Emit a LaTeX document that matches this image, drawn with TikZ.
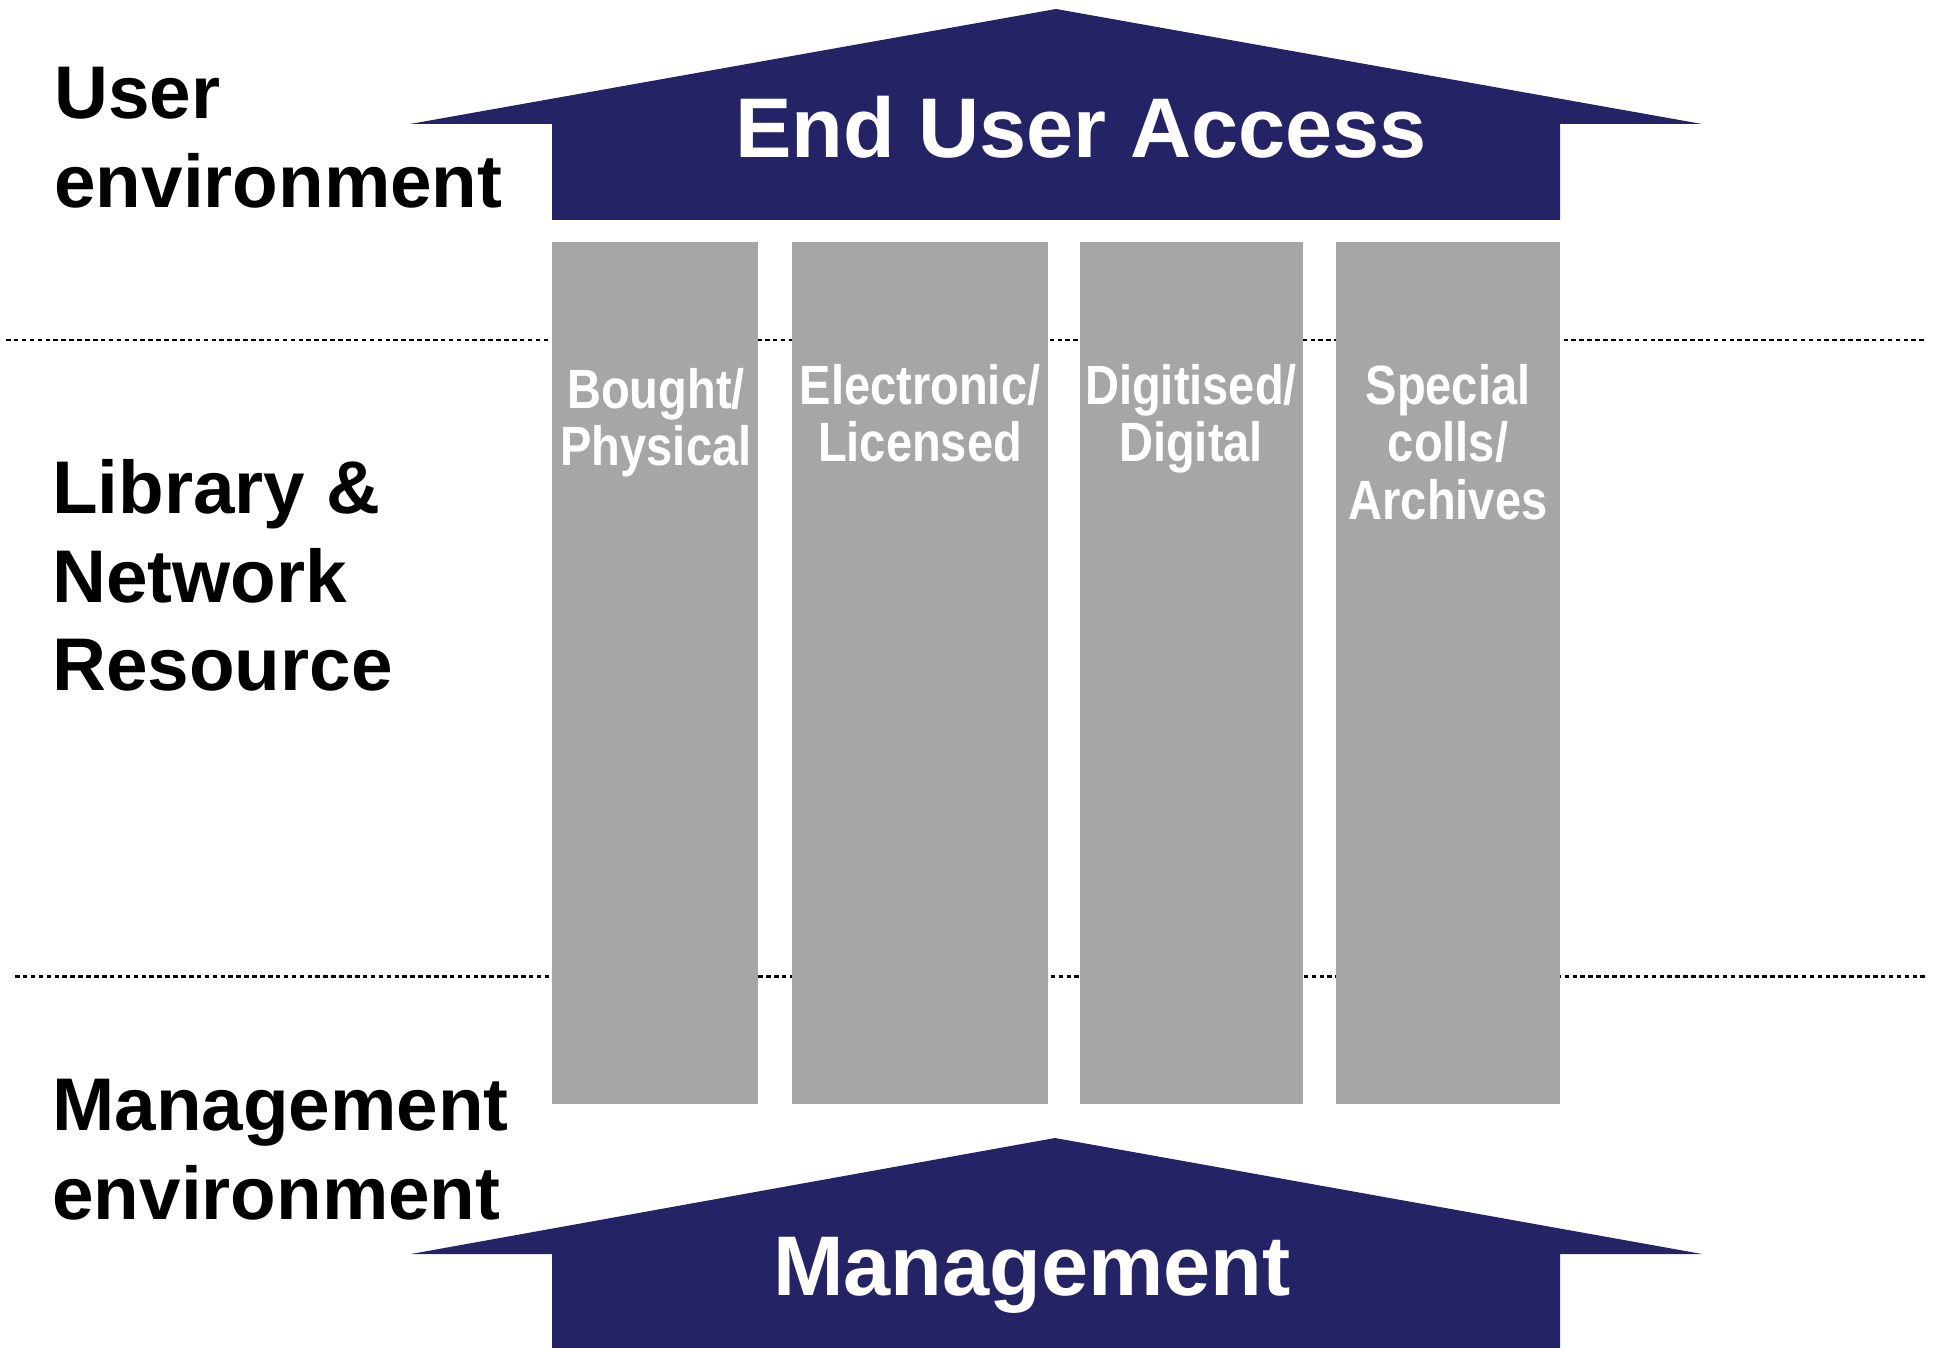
\documentclass[tikz,border=0pt]{standalone}
\usepackage{fontspec}
\setmainfont{Liberation Sans}
\newfontfamily\narrowfont[FakeStretch=0.85]{Liberation Sans}
\definecolor{arrowblue}{RGB}{35,35,102}
\definecolor{pillargrey}{RGB}{166,166,166}

\begin{document}
\begin{tikzpicture}[x=0.02cm, y=-0.02cm,
    zone/.style={anchor=north west, align=left, inner sep=0pt,
      font=\fontsize{42.5}{50.5}\selectfont\bfseries},
    pillar/.style={anchor=north, align=center, inner sep=0pt, text=white,
      font=\narrowfont\fontsize{31.5}{32.6}\selectfont\bfseries},
    banner/.style={anchor=base, inner sep=0pt, text=white,
      font=\fontsize{48.2}{56}\selectfont\bfseries},
    divider/.style={dash pattern=on 2.6pt off 1.9pt, line width=1.7pt}]
      \useasboundingbox (0,0) rectangle (1940,1348);
      % layer boundaries
      \draw [divider] (6,340) -- (1926,340);
      \draw [divider] (15,976) -- (1926,976);
      % the four pillars
      \fill [pillargrey] (552,242) rectangle (758,1104);
      \fill [pillargrey] (792,242) rectangle (1048,1104);
      \fill [pillargrey] (1080,242) rectangle (1303,1104);
      \fill [pillargrey] (1336,242) rectangle (1560,1104);
      % arrows
      \fill [arrowblue] (552,220) -- (552,124) -- (410,124) -- (1056,9)
        -- (1702,124) -- (1560,124) -- (1560,220) -- cycle;
      \fill [arrowblue] (552,1348) -- (552,1254) -- (411,1254) -- (1055,1138)
        -- (1702,1254) -- (1560,1254) -- (1560,1348) -- cycle;
      \node [banner] (access) at (1081,158) {End User Access};
      \node [banner] (mgmt) at (1032,1295) {Management};
      \node [pillar] (bought) at (656,368) {Bought/\\Physical};
      \node [pillar] (electronic) at (920,364) {Electronic/\\Licensed};
      \node [pillar] (digitised) at (1191,364) {Digitised/\\Digital};
      \node [pillar] (special) at (1448,364) {Special\\colls/\\Archives};
      % left hand labels
      \node [zone] (userenv) at (54,67) {User\\environment};
      \node [zone] (libres) at (52,459) {Library \&\\Network\\Resource};
      \node [zone] (mgmtenv) at (52,1079) {Management\\environment};
\end{tikzpicture}
\end{document}
